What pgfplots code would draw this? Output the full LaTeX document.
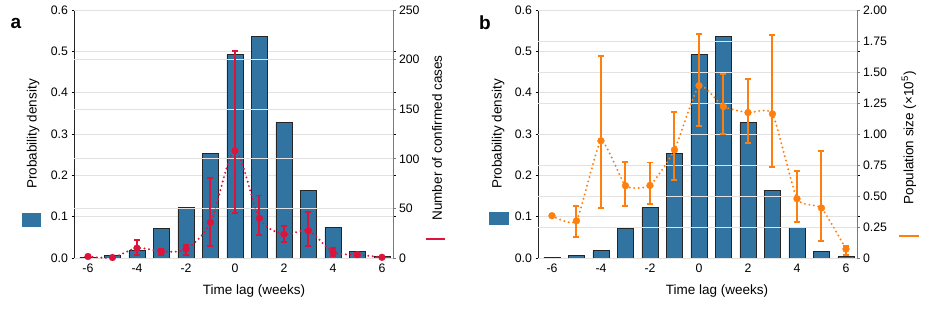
\documentclass[border=0pt]{standalone}
\usepackage{pgfplots}
\pgfplotsset{compat=1.18}
\usepackage{fontspec}
\setmainfont{Liberation Sans}
\definecolor{barblue}{HTML}{3274A1}
\definecolor{crim}{HTML}{DC143C}
\definecolor{orng}{HTML}{FF7F0E}
\definecolor{gridc}{HTML}{E2E2E2}
\definecolor{raxis}{HTML}{7A7A7A}

\pgfplotsset{
  base/.style={scale only axis, width=319pt, height=248pt,
    xmin=-6.57, xmax=6.45, anchor=south west,
    tick label style={font=\fontsize{12.3}{14}\selectfont},
    label style={font=\fontsize{13.5}{16}\selectfont},
    /pgf/number format/assume math mode=true,
    ymajorgrids, grid style={gridc, line width=0.8pt},
    tick align=outside, major tick length=2.5pt,
    clip=false},
  leftax/.style={base, ymin=0, ymax=0.6,
    xtick={-6,-4,...,6}, xticklabels={-6,-4,-2,0,2,4,6},
    x tick style={draw=none},
    ytick={0,0.1,0.2,0.3,0.4,0.5,0.6},
    yticklabels={0.0,0.1,0.2,0.3,0.4,0.5,0.6},
    y tick style={black, line width=0.6pt},
    axis line style={black!85, line width=0.9pt},
    xlabel={Time lag (weeks)},
    ylabel={Probability density},
  },
  rightax/.style={base, axis y line*=right, axis x line=none,
    y tick style={raxis, line width=0.8pt},
    axis line style={raxis, line width=0.9pt},
  },
  barsty/.style={ybar, bar width=16pt, fill=barblue, draw=black!85, line width=0.9pt},
  errsty/.style={only marks, mark=*, mark size=3.4pt, mark options={solid, fill=#1, draw=#1},
    error bars/.cd, y dir=both, y explicit,
    error bar style={draw=#1, solid, line width=1.9pt, line cap=butt},
    error mark options={rotate=90, draw=#1, solid, mark size=3pt, line width=1.9pt}},
  stemsty/.style={draw=#1, solid, line width=2pt, unbounded coords=jump, mark=none},
}

\begin{document}
\begin{tikzpicture}
\useasboundingbox (0,0) rectangle (926pt,312pt);

% ---------------- Panel a ----------------
\begin{axis}[leftax, at={(74pt,54pt)},
  xlabel style={at={(axis description cs:0.564,-0.133)}, anchor=center},
  ylabel style={at={(axis description cs:-0.1285,0.5)}, anchor=center}]
\addplot[barsty] coordinates {
(-6,0.002) (-5,0.006) (-4,0.018) (-3,0.071) (-2,0.122) (-1,0.253)
(0,0.492) (1,0.536) (2,0.327) (3,0.164) (4,0.074) (5,0.016) (6,0.003)};
\end{axis}
\begin{axis}[rightax, at={(74pt,54pt)}, ymin=0, ymax=250,
  ytick={0,50,100,150,200,250},
  ylabel={Number of confirmed cases},
  ylabel style={at={(axis description cs:1.138,0.484)}, anchor=center}]
\addplot[crim, smooth, line width=2.2pt, line cap=round, dash pattern=on 0pt off 4.5pt] coordinates {
(-6,1.5) (-5,0.5) (-4,10) (-3,6.7) (-2,9) (-1,36) (0,108) (1,40) (2,24) (3,27.5) (4,6) (5,3.4) (6,0.7)};
\addplot[stemsty=crim] coordinates {
(-4,3.4) (-4,18.5) (-4,nan) (-3,3) (-3,9) (-3,nan) (-2,3) (-2,13) (-2,nan)
(-1,12) (-1,80.5) (-1,nan) (0,45) (0,209) (0,nan) (1,23.5) (1,63) (1,nan)
(2,16) (2,32) (2,nan) (3,12.5) (3,46) (3,nan) (4,1.7) (4,10) (4,nan) (5,1.9) (5,4.9)};
\addplot[errsty=crim]
coordinates {
(-6,1.5) +- (0,0)
(-5,0.5) +- (0,0)
(-4,10) += (0,8.5) -= (0,6.6)
(-3,6.7) += (0,2.3) -= (0,3.7)
(-2,9) += (0,4) -= (0,6)
(-1,36) += (0,44.5) -= (0,24)
(0,108) += (0,101) -= (0,63)
(1,40) += (0,23) -= (0,16.5)
(2,24) += (0,8) -= (0,8)
(3,27.5) += (0,18.5) -= (0,15)
(4,6) += (0,4) -= (0,4.3)
(5,3.4) += (0,1.5) -= (0,1.5)
(6,0.7) +- (0,0)};
\end{axis}

% ---------------- Panel b ----------------
\begin{axis}[leftax, at={(538pt,54pt)},
  xlabel style={at={(axis description cs:0.561,-0.133)}, anchor=center},
  ylabel style={at={(axis description cs:-0.125,0.5)}, anchor=center}]
\addplot[barsty] coordinates {
(-6,0.002) (-5,0.006) (-4,0.018) (-3,0.071) (-2,0.122) (-1,0.253)
(0,0.492) (1,0.536) (2,0.327) (3,0.164) (4,0.074) (5,0.016) (6,0.003)};
\end{axis}
\begin{axis}[rightax, at={(538pt,54pt)}, ymin=0, ymax=2,
  ytick={0,0.25,0.5,0.75,1,1.25,1.5,1.75,2},
  yticklabels={0,0.25,0.50,0.75,1.00,1.25,1.50,1.75,2.00},
  ylabel={Population size (×10\textsuperscript{5})},
  ylabel style={at={(axis description cs:1.163,0.484)}, anchor=center}]
\addplot[orng, smooth, tension=0.3, line width=2.2pt, line cap=round, dash pattern=on 0pt off 4.5pt] coordinates {
(-6,0.341) (-5,0.30) (-4,0.945) (-3,0.583) (-2,0.585) (-1,0.872) (0,1.39)
(1,1.221) (2,1.173) (3,1.162) (4,0.478) (5,0.403) (6,0.072)};
\addplot[stemsty=orng] coordinates {
(-5,0.17) (-5,0.42) (-5,nan) (-4,0.403) (-4,1.632) (-4,nan) (-3,0.421) (-3,0.773) (-3,nan)
(-2,0.435) (-2,0.770) (-2,nan) (-1,0.631) (-1,1.178) (-1,nan) (0,1.066) (0,1.809) (0,nan)
(1,0.999) (1,1.485) (1,nan) (2,0.926) (2,1.442) (2,nan) (3,0.733) (3,1.799) (3,nan)
(4,0.29) (4,0.70) (4,nan) (5,0.134) (5,0.864) (5,nan) (6,0.027) (6,0.094)};
\addplot[errsty=orng]
coordinates {
(-6,0.341) +- (0,0)
(-5,0.30) += (0,0.12) -= (0,0.13)
(-4,0.945) += (0,0.687) -= (0,0.542)
(-3,0.583) += (0,0.19) -= (0,0.162)
(-2,0.585) += (0,0.185) -= (0,0.15)
(-1,0.872) += (0,0.306) -= (0,0.241)
(0,1.39) += (0,0.419) -= (0,0.324)
(1,1.221) += (0,0.264) -= (0,0.222)
(2,1.173) += (0,0.269) -= (0,0.247)
(3,1.162) += (0,0.637) -= (0,0.429)
(4,0.478) += (0,0.222) -= (0,0.188)
(5,0.403) += (0,0.461) -= (0,0.269)
(6,0.072) += (0,0.022) -= (0,0.045)};
\end{axis}

% legend keys and panel letters
\fill[barblue] (22pt,85pt) rectangle (41pt,99pt);
\draw[crim, line width=2pt] (426pt,73pt) -- (445pt,73pt);
\fill[barblue] (489pt,87pt) rectangle (509pt,100pt);
\draw[orng, line width=2pt] (899pt,76pt) -- (919pt,76pt);
\node[font=\fontsize{19}{22}\selectfont\bfseries] at (16pt,289pt) {a};
\node[font=\fontsize{19}{22}\selectfont\bfseries] at (485pt,289pt) {b};
\end{tikzpicture}
\end{document}
